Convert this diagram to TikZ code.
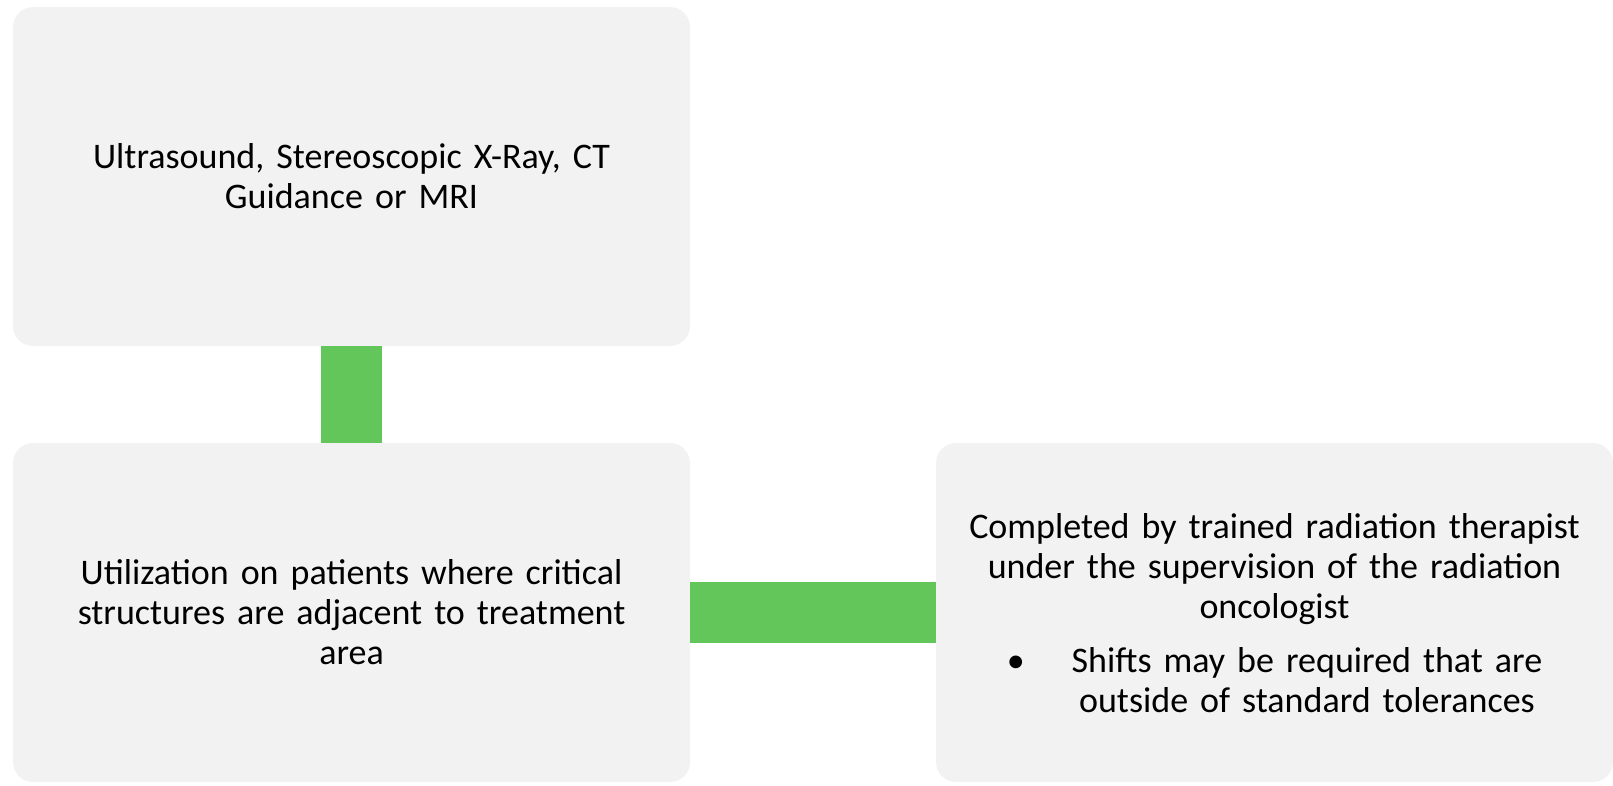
\documentclass[tikz,border=0pt]{standalone}
\usepackage{fontspec}
\setmainfont{Carlito}
\definecolor{boxgray}{HTML}{F2F2F2}
\definecolor{linkgreen}{HTML}{62C65B}
\begin{document}
\begin{tikzpicture}[x=1pt,y=-1pt,
  panel/.style={fill=boxgray, draw=none, rounded corners=20pt, minimum width=677pt, minimum height=339pt,
     text width=660pt, align=center, inner sep=0pt, font=\fontsize{36}{40}\selectfont},
  link/.style={draw=linkgreen, line width=61pt}]
\useasboundingbox (0,0) rectangle (1613,785);
\node[panel] (b1) at (351.5,176.5) {Ultrasound, Stereoscopic X-Ray, CT\\Guidance or MRI};
\node[panel] (b2) at (351.5,612.5) {Utilization on patients where critical\\structures are adjacent to treatment\\area};
\node[panel] (b3) at (1274.5,612.5) {\rule{0pt}{38pt}Completed by trained radiation therapist\\under the supervision of the radiation\\oncologist\\[19pt]
  \begin{tabular}{@{}l@{\hspace{47pt}}c@{}}\textbullet & Shifts may be required that are\\ & outside of standard tolerances\end{tabular}};
\draw[link] (b1.south) -- (b2.north);
\draw[link] (b2.east) -- (b3.west);
\end{tikzpicture}
\end{document}
